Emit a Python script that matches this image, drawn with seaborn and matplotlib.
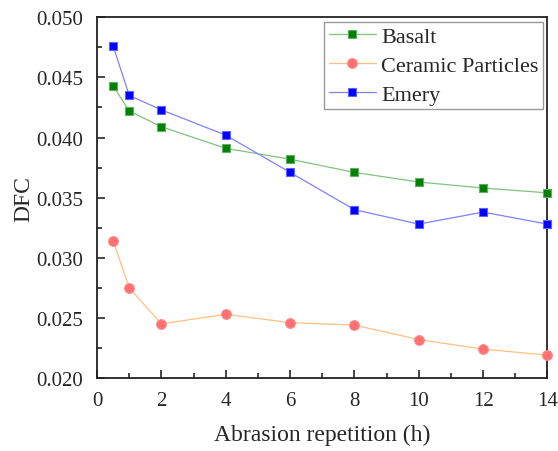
import matplotlib
matplotlib.use("Agg")
import matplotlib.pyplot as plt
import seaborn as sns
import pandas as pd
from matplotlib.ticker import MultipleLocator

hours = [0.5, 1, 2, 4, 6, 8, 10, 12, 14]
basalt = [0.0443, 0.0422, 0.0409, 0.0391, 0.0382, 0.0371, 0.0363, 0.0358, 0.0354]
ceramic = [0.0314, 0.0275, 0.0245, 0.0253, 0.0246, 0.0244, 0.0232, 0.0224, 0.0219]
emery = [0.0476, 0.0435, 0.0423, 0.0402, 0.0371, 0.0340, 0.0328, 0.0338, 0.0328]
series_names = ["Basalt", "Ceramic Particles", "Emery"]

sns.set_style("ticks")
plt.rcParams['font.family'] = ['Liberation Serif', 'DejaVu Serif']
plt.rcParams['mathtext.fontset'] = 'stix'

fig = plt.figure(figsize=(5.58, 4.52), dpi=100)
ax = fig.add_axes([0.174, 0.1615, 0.807, 0.798])

styles = {
    "Basalt": dict(line="#7fc47f", face="#008000", edge="#5fb05f", marker="s", ms=6.2),
    "Ceramic Particles": dict(line="#ffc080", face="#ff7070", edge="#ff8a8a", marker="o", ms=7),
    "Emery": dict(line="#8080ff", face="#0000ff", edge="#6060ff", marker="s", ms=6.2),
}
values = {"Basalt": basalt, "Ceramic Particles": ceramic, "Emery": emery}

for name in series_names:
    st = styles[name]
    df = pd.DataFrame({"h": hours, "v": values[name]})
    sns.lineplot(data=df, x="h", y="v", ax=ax, color=st["line"], lw=0.9,
                 marker=st["marker"], markersize=st["ms"], markerfacecolor=st["face"],
                 markeredgecolor=st["edge"], markeredgewidth=0.8, label=name,
                 clip_on=False, zorder=3)

ax.set_xlim(0, 14)
ax.set_ylim(0.020, 0.050)
ax.xaxis.set_major_locator(MultipleLocator(2))
ax.xaxis.set_minor_locator(MultipleLocator(1))
ax.yaxis.set_major_locator(MultipleLocator(0.005))
ax.yaxis.set_minor_locator(MultipleLocator(0.0025))
ax.yaxis.set_major_formatter(matplotlib.ticker.FormatStrFormatter('%.3f'))
ax.tick_params(axis='both', which='major', direction='in', length=6, width=1.2,
               labelsize=15, top=False, right=False)
ax.tick_params(axis='x', which='major', pad=9)
ax.tick_params(axis='y', which='major', pad=10)
ax.tick_params(axis='both', which='minor', direction='in', length=3.5, width=1.2,
               top=False, right=False)
for s in ax.spines.values():
    s.set_linewidth(1.3)
    s.set_color("#222222")

ax.set_xlabel("Abrasion repetition (h)", fontsize=17, labelpad=10)
ax.set_ylabel("DFC", fontsize=17, labelpad=1)

leg = ax.legend(loc="upper right", fontsize=16, frameon=True, fancybox=False,
                edgecolor="#808080", borderpad=0.2, handlelength=2.1, handletextpad=0.25,
                labelspacing=0.38, borderaxespad=0.2)
leg.get_frame().set_linewidth(1.0)

fig.savefig("out.png", dpi=100)
